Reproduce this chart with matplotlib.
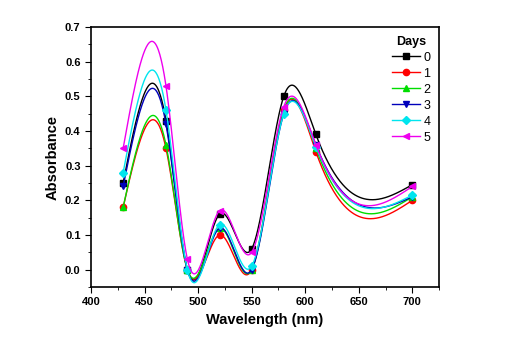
import numpy as np
import matplotlib
matplotlib.use("Agg")
import matplotlib.pyplot as plt
from matplotlib.ticker import MultipleLocator

plt.rcParams['font.family'] = ['Liberation Sans', 'DejaVu Sans']

# wavelengths (nm) and absorbance per day
wavelength = [430, 470, 490, 520, 550, 580, 610, 700]
day0 = [0.25, 0.43, 0.00, 0.16, 0.06, 0.50, 0.39, 0.245]
day1 = [0.18, 0.35, 0.00, 0.10, 0.00, 0.46, 0.34, 0.20]
day2 = [0.18, 0.36, 0.00, 0.12, 0.00, 0.46, 0.35, 0.21]
day3 = [0.24, 0.42, 0.00, 0.12, 0.00, 0.45, 0.36, 0.21]
day4 = [0.28, 0.46, 0.00, 0.13, 0.01, 0.45, 0.355, 0.215]
day5 = [0.35, 0.53, 0.03, 0.17, 0.05, 0.47, 0.36, 0.24]
days = ['0', '1', '2', '3', '4', '5']

colors = ['black', '#ff0000', '#00dd00', '#0000bb', '#00e5ee', '#ee00ee']
markers = ['s', 'o', '^', 'v', 'D', '<']
msizes = [4, 4.5, 5, 5, 4, 5]


def natural_spline(x, y, xs):
    """natural cubic spline through (x, y), evaluated at xs"""
    x = np.asarray(x, float)
    y = np.asarray(y, float)
    n = len(x)
    h = np.diff(x)
    A = np.zeros((n, n))
    b = np.zeros(n)
    A[0, 0] = A[-1, -1] = 1
    for i in range(1, n - 1):
        A[i, i - 1] = h[i - 1]
        A[i, i] = 2 * (h[i - 1] + h[i])
        A[i, i + 1] = h[i]
        b[i] = 6 * ((y[i + 1] - y[i]) / h[i] - (y[i] - y[i - 1]) / h[i - 1])
    M = np.linalg.solve(A, b)
    idx = np.clip(np.searchsorted(x, xs) - 1, 0, n - 2)
    x0, x1 = x[idx], x[idx + 1]
    hh = x1 - x0
    t0 = x1 - xs
    t1 = xs - x0
    return (M[idx] * t0 ** 3 / (6 * hh) + M[idx + 1] * t1 ** 3 / (6 * hh)
            + (y[idx] / hh - M[idx] * hh / 6) * t0
            + (y[idx + 1] / hh - M[idx + 1] * hh / 6) * t1)


fig = plt.figure(figsize=(5.21, 3.57), dpi=100)
ax = fig.add_axes([0.1747, 0.196, 0.668, 0.7284])

xs = np.linspace(wavelength[0], wavelength[-1], 600)
series = [day0, day1, day2, day3, day4, day5]
for vals, lab, c, m, ms in zip(series, days, colors, markers, msizes):
    ax.plot(xs, natural_spline(wavelength, vals, xs), color=c, lw=1.0)
    ax.plot(wavelength, vals, linestyle='none', marker=m, color=c, ms=ms)
    ax.plot([], [], color=c, marker=m, ms=ms, lw=1.0, label=lab)

ax.set_xlim(400, 725)
ax.set_ylim(-0.05, 0.7)
ax.xaxis.set_major_locator(MultipleLocator(50))
ax.xaxis.set_minor_locator(MultipleLocator(25))
ax.yaxis.set_major_locator(MultipleLocator(0.1))
ax.yaxis.set_minor_locator(MultipleLocator(0.05))
ax.yaxis.set_major_formatter(plt.FormatStrFormatter('%.1f'))
ax.tick_params(which='both', direction='out', top=False, right=False,
               labelsize=8)
ax.tick_params(which='major', length=4)
ax.tick_params(which='minor', length=2.5)
for t in ax.get_xticklabels() + ax.get_yticklabels():
    t.set_fontweight('bold')
for s in ax.spines.values():
    s.set_linewidth(1.2)

ax.set_xlabel('Wavelength (nm)', fontsize=10.5, fontweight='bold')
ax.set_ylabel('Absorbance', fontsize=10.5, fontweight='bold')

leg = ax.legend(title='Days', loc='upper right', frameon=False, fontsize=9,
                handlelength=2.2, handletextpad=0.3, labelspacing=0.32,
                borderaxespad=0.3)
leg.get_title().set_fontweight('bold')
leg.get_title().set_fontsize(9)

fig.savefig('out.png', dpi=100)
